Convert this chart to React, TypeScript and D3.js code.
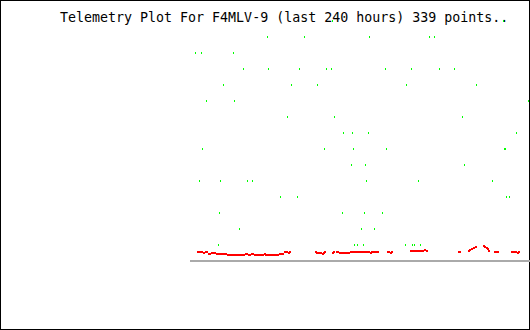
import React from "react";
import * as d3 from "d3";

const TITLE = "Telemetry Plot For F4MLV-9 (last 240 hours) 339 points..";
const hourDomain = [0, 240];
const valueDomain = [0, 240];

// green channel: hours since start of window, value
const greenHours = [
  100.2, 220.9,
  54.4, 80.5, 126.4, 168.7, 172.2,
  3.5, 7.8, 30.4,
  37.4, 55.1, 76.9, 96.0, 99.5, 137.6, 156.0, 175.8, 186.4,
  23.3, 71.3, 89.6, 152.5, 201.9,
  11.3, 31.1, 238.6,
  68.5, 101.6, 192.0,
  108.0, 114.4, 125.6, 230.1,
  8.5, 94.6, 115.1, 138.4, 221.6, 222.4,
  113.6, 123.5, 193.4,
  6.4, 21.2, 40.2, 43.8, 124.2, 160.9, 213.2,
  63.5, 75.5, 223.1, 225.2,
  20.5, 107.3, 122.8, 135.5,
  34.6, 120.7, 129.9,
  19.8, 115.8, 117.9, 122.1, 151.8, 156.7, 158.1, 162.4,
];
const greenValues = [
  240, 240,
  224, 224, 224, 224, 224,
  208, 208, 208,
  192, 192, 192, 192, 192, 192, 192, 192, 192,
  176, 176, 176, 176, 176,
  160, 160, 160,
  144, 144, 144,
  128, 128, 128, 128,
  112, 112, 112, 112, 112, 112,
  96, 96, 96,
  80, 80, 80, 80, 80, 80, 80,
  64, 64, 64, 64,
  48, 48, 48, 48,
  32, 32, 32,
  16, 16, 16, 16, 16, 16, 16, 16,
];

// red channel
const redHours = [
  4.9, 6.4, 7.8, 9.2, 10.6, 11.3, 12.7, 13.4, 14.8, 16.2, 16.9, 18.4, 19.8, 21.2, 22.6, 24.0, 24.7,
  26.1, 27.5, 28.9, 30.4, 31.8, 33.2, 34.6, 36.0, 37.4, 38.8, 39.5, 40.9, 41.6, 43.1, 43.8, 45.2,
  46.6, 48.0, 49.4, 50.8, 52.2, 52.9, 54.4, 55.8, 57.2, 58.6, 60.0, 61.4, 62.8, 64.2, 64.9, 66.4,
  67.8, 69.2, 69.9,
  88.2, 88.9, 90.4, 91.8, 93.2, 93.9, 94.6,
  100.2, 100.9, 103.1, 103.8, 105.2, 106.6, 108.0, 109.4, 110.8, 111.5, 112.9, 114.4, 115.8, 117.2,
  118.6, 120.0, 121.4, 122.8, 124.2, 125.6, 127.1, 127.8, 129.2, 130.6, 132.0,
  139.1, 139.8, 141.2, 141.9,
  155.3, 156.7, 158.1, 159.5, 160.9, 162.4, 163.8, 165.2, 166.6,
  189.2, 189.9,
  196.2, 196.9, 198.4, 199.8, 201.2,
  206.8, 207.5, 208.9, 209.6, 210.4,
  214.6, 216.0, 216.7,
  226.6, 228.0, 229.4, 230.8, 231.5,
];
const redValues = [
  9, 9, 9, 8, 9, 9, 7, 7, 8, 8, 8, 7, 7, 7, 7, 7, 7,
  6, 6, 6, 6, 6, 6, 6, 6, 6, 7, 7, 6, 6, 7, 7, 6,
  6, 6, 6, 6, 7, 6, 6, 6, 6, 6, 6, 6, 7, 7, 7, 9,
  9, 8, 9,
  9, 8, 8, 8, 7, 8, 9,
  8, 9, 9, 9, 8, 8, 8, 8, 8, 8, 9, 9, 9, 9,
  9, 9, 9, 9, 9, 9, 8, 9, 9, 9, 9,
  9, 9, 8, 9,
  10, 10, 10, 10, 10, 10, 10, 11, 10,
  9, 9,
  10, 11, 12, 13, 14,
  15, 14, 13, 12, 10,
  9, 9, 9,
  9, 9, 9, 8, 9,
];

export default function App() {
  const W = 530;
  const H = 330;
  const x = d3.scaleLinear().domain(hourDomain).range([190, 530]);
  const y = d3.scaleLinear().domain(valueDomain).range([261, 21]);
  const px = (h: number) => Math.round(x(h));
  const py = (v: number) => Math.round(y(v)) - 1;

  return (
    <svg
      width={W}
      height={H}
      style={{ position: "absolute", left: 0, top: 0, display: "block", background: "#fff" }}
    >
      <rect x={0.5} y={0.5} width={W - 1} height={H - 1} fill="#fff" stroke="#000" strokeWidth={1} shapeRendering="crispEdges" />
      <text
        x={60}
        y={22}
        fontFamily="'DejaVu Sans Mono', monospace"
        fontSize={13.3}
        fill="#000"
        xmlSpace="preserve"
      >
        {TITLE}
      </text>
      <rect
        x={x(hourDomain[0])}
        y={py(0)}
        width={x(hourDomain[1]) - x(hourDomain[0])}
        height={2}
        fill="#aaaaaa"
        shapeRendering="crispEdges"
      />
      <g shapeRendering="crispEdges" fill="#ff0000">
        {redHours.map((h, i) => (
          <rect key={"r" + i} x={px(h)} y={py(redValues[i])} width={2} height={2} />
        ))}
      </g>
      <g shapeRendering="crispEdges" fill="#00ff00">
        {greenHours.map((h, i) => (
          <rect key={"g" + i} x={px(h)} y={py(greenValues[i])} width={1} height={2} />
        ))}
      </g>
    </svg>
  );
}
